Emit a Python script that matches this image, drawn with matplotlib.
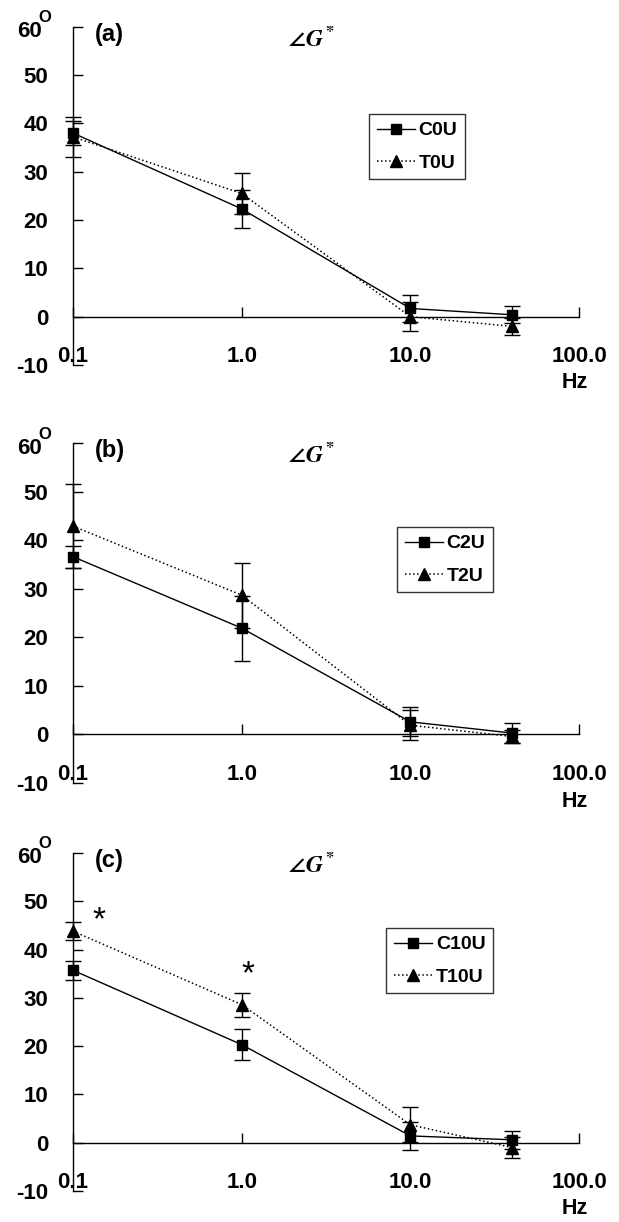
import matplotlib
matplotlib.use('Agg')
import matplotlib.pyplot as plt
import matplotlib.ticker as mticker
from matplotlib.lines import Line2D

plt.rcParams['font.family'] = ['Liberation Sans', 'DejaVu Sans']
plt.rcParams['font.weight'] = 'bold'
plt.rcParams['mathtext.fontset'] = 'stix'
plt.rcParams['axes.unicode_minus'] = False

freq = [0.1, 1.0, 10.0, 40.0]

# panel (a)
c0u = [38.0, 22.3, 1.7, 0.4]
c0u_err = [2.5, 4.0, 2.8, 1.8]
t0u = [37.2, 25.5, 0.0, -2.0]
t0u_err = [4.2, 4.3, 3.0, 1.8]

# panel (b)
c2u = [36.6, 21.9, 2.6, 0.3]
c2u_err = [2.3, 6.7, 3.0, 2.0]
t2u = [42.9, 28.7, 1.9, -0.4]
t2u_err = [8.6, 6.7, 3.1, 1.4]

# panel (c)
c10u = [35.7, 20.3, 1.4, 0.6]
c10u_err = [2.0, 3.2, 2.9, 1.9]
t10u = [43.8, 28.6, 3.7, -1.0]
t10u_err = [1.8, 2.5, 3.6, 2.1]

star_x = [0.143, 1.09]
star_y = [46.0, 34.8]

xtick_vals = [0.1, 1, 10, 100]
xtick_labels = ['0.1', '1.0', '10.0', '100.0']
ytick_vals = [-10, 0, 10, 20, 30, 40, 50, 60]
ytick_labels = ['-10', '0', '10', '20', '30', '40', '50', '']

panels = [
    ('(a)', 'C0U', c0u, c0u_err, 'T0U', t0u, t0u_err, (0.585, 0.742)),
    ('(b)', 'C2U', c2u, c2u_err, 'T2U', t2u, t2u_err, (0.640, 0.753)),
    ('(c)', 'C10U', c10u, c10u_err, 'T10U', t10u, t10u_err, (0.619, 0.778)),
]
boxes = [
    [0.118, 0.7013, 0.8175, 0.2768],
    [0.118, 0.3592, 0.8175, 0.2782],
    [0.118, 0.0254, 0.8175, 0.2766],
]

fig = plt.figure(figsize=(6.19, 12.22), dpi=100)

for i, (tag, cname, cy, ce, tname, ty, te, legpos) in enumerate(panels):
    ax = fig.add_axes(boxes[i])
    ax.set_xscale('log')
    ax.set_xlim(0.1, 100)
    ax.set_ylim(-10, 60)

    eb1 = ax.errorbar(freq, cy, yerr=ce, color='black', lw=1.0, marker='s', ms=6.5,
                      capsize=6, elinewidth=1.0, capthick=1.0)
    eb2 = ax.errorbar(freq, ty, yerr=te, color='black', lw=1.1, ls=':', marker='^', ms=8,
                      capsize=6, elinewidth=1.0, capthick=1.0)
    for eb in (eb1, eb2):
        for art in eb.get_children():
            art.set_clip_on(False)

    ax.spines['top'].set_visible(False)
    ax.spines['right'].set_visible(False)
    ax.spines['bottom'].set_position(('data', 0))
    ax.spines['left'].set_linewidth(1.0)
    ax.spines['bottom'].set_linewidth(1.0)

    ax.set_xticks(xtick_vals)
    ax.xaxis.set_minor_locator(mticker.NullLocator())
    ax.set_xticklabels(xtick_labels)
    ax.set_yticks(ytick_vals)
    ax.set_yticklabels(ytick_labels)
    ax.tick_params(axis='x', direction='in', length=7, width=1, pad=21, labelsize=16)
    ax.tick_params(axis='y', direction='in', length=7, width=1, pad=18, labelsize=16)
    for lab in ax.get_xticklabels() + ax.get_yticklabels():
        lab.set_fontweight('bold')

    # "60" label with degree mark
    ax.annotate('60', xy=(0, 60), xycoords=ax.get_yaxis_transform(),
                xytext=(-31, -5), textcoords='offset pixels',
                ha='right', va='center', fontsize=16, fontweight='bold')
    ax.annotate('O', xy=(0, 60), xycoords=ax.get_yaxis_transform(),
                xytext=(-28, 9), textcoords='offset pixels',
                ha='center', va='center', fontsize=12, fontweight='bold')

    ax.text(0.0435, 0.978, tag, transform=ax.transAxes, fontsize=17, fontweight='bold',
            ha='left', va='center')
    ax.text(0.423, 0.965, r'$\angle G^{*}$', transform=ax.transAxes, fontsize=17,
            fontweight='normal', ha='left', va='center')
    ax.text(0.992, -0.053, 'Hz', transform=ax.transAxes, fontsize=15.5, fontweight='bold',
            ha='center', va='center')

    handles = [
        Line2D([], [], color='black', lw=1.0, marker='s', ms=6.5, label=cname),
        Line2D([], [], color='black', lw=1.1, ls=':', marker='^', ms=8, label=tname),
    ]
    leg = ax.legend(handles=handles, loc='upper left', bbox_to_anchor=legpos,
                    borderaxespad=0, frameon=True, fancybox=False,
                    handlelength=1.95, handletextpad=0.2, borderpad=0.4,
                    labelspacing=0.75, prop={'weight': 'bold', 'size': 14})
    leg.get_frame().set_edgecolor('black')
    leg.get_frame().set_linewidth(1.0)

    if tag == '(c)':
        for sx, sy in zip(star_x, star_y):
            ax.text(sx, sy, '*', fontsize=24, fontweight='normal', ha='center', va='center')

fig.savefig('out.png', dpi=100)
